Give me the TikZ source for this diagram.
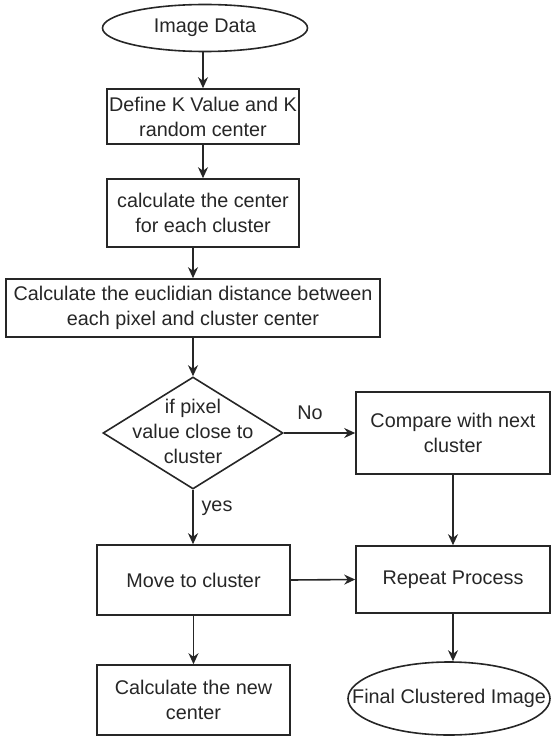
\documentclass[tikz,border=0pt]{standalone}
\usepackage{fontspec}
\setmainfont{Liberation Sans}
\usetikzlibrary{shapes.geometric,arrows.meta}
\definecolor{ln}{HTML}{262626}
\begin{document}
\begin{tikzpicture}[x=1pt,y=-1pt,
  every node/.style={font=\fontsize{19.8}{25}\selectfont, text=ln},
  box/.style={draw=ln, line width=1.6pt, rectangle, inner sep=0pt, align=center},
  oval/.style={draw=ln, line width=1.6pt, ellipse, inner sep=0pt, align=center},
  arr/.style={draw=ln, line width=1.6pt, -{Stealth[length=11pt,width=10pt]}},
  lbl/.style={inner sep=0pt}]
\useasboundingbox (0,0) rectangle (553,738);
\node[oval, minimum width=205pt, minimum height=47pt] (img) at (205,28) {};
\node[lbl] (imgt) at (img.center) {Image Data};
\node[box, minimum width=192pt, minimum height=55pt] (def) at (203,116.5) {Define K Value and K\\random center};
\node[box, minimum width=192pt, minimum height=68pt] (cc) at (203,213) {calculate the center\\for each cluster};
\node[box, minimum width=374pt, minimum height=58pt] (euc) at (193,308) {Calculate the euclidian distance between\\each pixel and cluster center};
\node[draw=ln, line width=1.6pt, diamond, inner sep=0pt, minimum width=180pt, minimum height=112pt] (dec) at (193,433) {};
\node[lbl, align=center] (dect) at (193,431) {if pixel\\value close to\\cluster};
\node[box, minimum width=194pt, minimum height=82pt] (cmp) at (453,433) {Compare with next\\cluster};
\node[box, minimum width=193pt, minimum height=70pt] (mv) at (193.5,580) {Move to cluster};
\node[box, minimum width=194pt, minimum height=67pt] (rep) at (453,579.5) {Repeat Process};
\node[box, minimum width=193pt, minimum height=70pt] (cn) at (193.5,700) {Calculate the new\\center};
\node[oval, minimum width=202pt, minimum height=73pt] (fin) at (449,698.5) {};
\node[lbl] (fint) at (fin.center) {Final Clustered Image};
\node[lbl] (no) at (310,413) {No};
\node[lbl] (yes) at (217,508) {yes};
\draw[arr] (img.south -| def.north) -- (def.north);
\draw[arr] (def.south) -- (cc.north);
\draw[arr] (cc.south -| dec.north) -- (dec.north |- euc.north);
\draw[arr] (euc.south -| dec.north) -- (dec.north);
\draw[arr] (dec.east) -- (cmp.west);
\draw[arr] (dec.south) -- (dec.south |- mv.north);
\draw[arr] (cmp.south) -- (rep.north);
\draw[arr] (mv.east) -- (rep.west);
\draw[arr] (mv.south) -- (cn.north);
\draw[arr] (rep.south) -- (rep.south |- fin.north);
\end{tikzpicture}
\end{document}
